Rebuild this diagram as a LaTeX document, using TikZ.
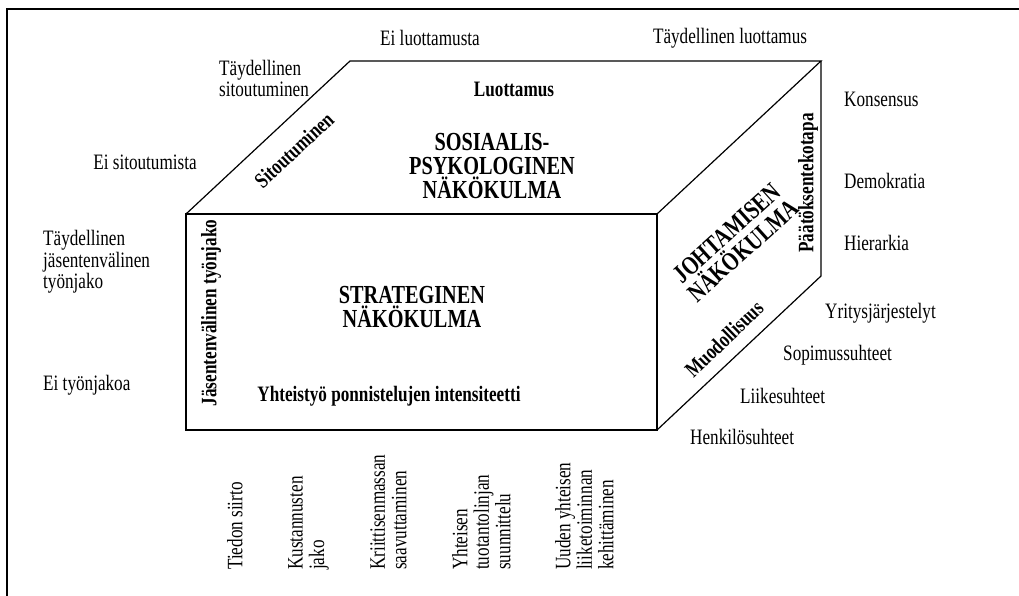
\documentclass[tikz,border=0pt]{standalone}
\usepackage{fontspec}
\setmainfont{Liberation Serif}[FakeStretch=0.78]
\begin{document}
\begin{tikzpicture}[x=1pt,y=-1pt,
  lbl/.style={font=\fontsize{22}{21.5}\selectfont, inner sep=0pt},
  lblb/.style={font=\bfseries\fontsize{22}{21.5}\selectfont, inner sep=0pt},
  ttl/.style={font=\bfseries\fontsize{26}{24}\selectfont, inner sep=0pt, align=center},
  edge/.style={line width=1.2pt, line join=miter},
  frame/.style={line width=2pt}]
\useasboundingbox (0,0) rectangle (1019,596);
% outer frame (top and left sides)
\coordinate (f1) at (7,596);
\coordinate (f2) at (7,9);
\coordinate (f3) at (1019,9);
\draw[frame] (f1) -- (f2) -- (f3);

% cube corners
\coordinate (A) at (186,214);
\coordinate (B) at (657,214);
\coordinate (C) at (657,430);
\coordinate (D) at (186,430);
\coordinate (E) at (350,61);
\coordinate (F) at (821,61);
\coordinate (G) at (821,276);
\draw[edge] (A) -- (B) -- (C) -- (D) -- cycle;
\draw[edge] (A) -- (E) -- (F) -- (B);
\draw[edge] (F) -- (G) -- (C);

% top labels
\node[lbl] (eil) at (430,38) {Ei luottamusta};
\node[lbl] (tayl) at (730,38) {Täydellinen luottamus};

% left labels
\node[lbl, anchor=west, align=left] (tays) at (219,78.5) {Täydellinen\\sitoutuminen};
\node[lbl] (eis) at (145,162) {Ei sitoutumista};
\node[lbl, anchor=west, align=left] (tayj) at (43,262) {Täydellinen\\jäsentenvälinen\\työnjako};
\node[lbl, anchor=west] (eit) at (43,385) {Ei työnjakoa};

% right labels
\node[lbl, anchor=west] (kon) at (844,99) {Konsensus};
\node[lbl, anchor=west] (dem) at (844,181) {Demokratia};
\node[lbl, anchor=west] (hie) at (844,243) {Hierarkia};
\node[lbl, anchor=west] (yri) at (825,313) {Yritysjärjestelyt};
\node[lbl, anchor=west] (sop) at (783,355) {Sopimussuhteet};
\node[lbl, anchor=west] (lii) at (740,396) {Liikesuhteet};
\node[lbl, anchor=west] (hen) at (690,437) {Henkilösuhteet};

% bottom labels (vertical)
\node[lbl, rotate=90, anchor=north west, align=left] (ts) at (227,570) {Tiedon siirto};
\node[lbl, rotate=90, anchor=north west, align=left] (kj) at (288,570) {Kustannusten\\jako};
\node[lbl, rotate=90, anchor=north west, align=left] (ks) at (370,570) {Kriittisenmassan\\saavuttaminen};
\node[lbl, rotate=90, anchor=north west, align=left] (yt) at (452,570) {Yhteisen\\tuotantolinjan\\suunnittelu};
\node[lbl, rotate=90, anchor=north west, align=left] (uy) at (555,570) {Uuden yhteisen\\liiketoiminnan\\kehittäminen};

% face labels
\node[lblb] (luo) at (514,89) {Luottamus};
\node[ttl] (sos) at (492,166) {SOSIAALIS-\\PSYKOLOGINEN\\NÄKÖKULMA};
\node[lblb, rotate=43] (sit) at (294,150) {Sitoutuminen};
\node[lblb, rotate=90] (jas) at (211,313) {Jäsentenvälinen työnjako};
\node[ttl] (str) at (412,307) {STRATEGINEN\\NÄKÖKULMA};
\node[lblb] (yht) at (389,396) {Yhteistyö ponnistelujen intensiteetti};
\node[ttl, rotate=42] (joh) at (735,242) {JOHTAMISEN\\NÄKÖKULMA};
\node[lblb, rotate=90] (paa) at (808,183) {Päätöksentekotapa};
\node[lblb, rotate=44] (muo) at (724,339) {Muodollisuus};
\end{tikzpicture}
\end{document}
